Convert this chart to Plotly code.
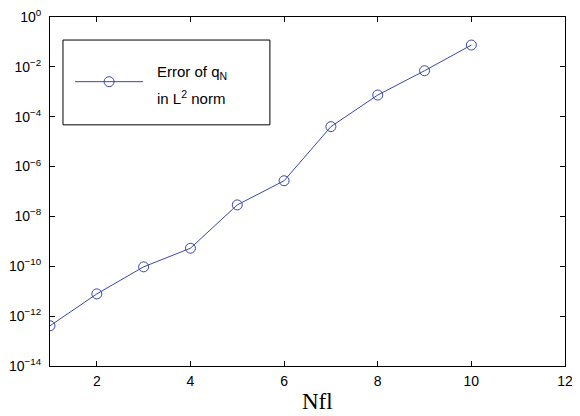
import plotly.graph_objects as go

# Data
nfl = [1, 2, 3, 4, 5, 6, 7, 8, 9, 10]
err_l2 = [4.1e-13, 7.8e-12, 9.5e-11, 5.3e-10, 2.9e-8, 2.7e-7, 4.0e-5, 7.4e-4, 7.0e-3, 7.5e-2]

x_ticks = [2, 4, 6, 8, 10, 12]
y_exponents = [0, -2, -4, -6, -8, -10, -12, -14]
y_tickvals = [10.0 ** e for e in y_exponents]
y_ticktext = ["10<sup>%s</sup>" % (str(e) if e >= 0 else "\u2212" + str(-e)) for e in y_exponents]

legend_line1 = "Error of q<sub>N</sub>"
legend_line2 = "in L<sup>2</sup> norm"
x_title = "Nfl"
color = "#3a48a8"

sans = "Liberation Sans, Arial, Helvetica, sans-serif"
serif = "Liberation Serif, Times New Roman, serif"

fig = go.Figure()
fig.add_trace(go.Scatter(
    x=nfl, y=err_l2, mode="lines+markers", name=" ",
    line=dict(color=color, width=1),
    marker=dict(symbol="circle-open", size=10, color=color, line=dict(width=1, color=color)),
    showlegend=True,
    hovertemplate="Error of q<sub>N</sub> in L<sup>2</sup> norm<br>Nfl=%{x}<br>%{y:.2e}<extra></extra>",
))

axis_font = dict(family=sans, size=14, color="black")

# The page body has an 8px margin; the figure is offset by 8px in the window.
fig.update_layout(
    width=572, height=408,
    margin=dict(l=42, r=15, t=9, b=50),
    paper_bgcolor="white", plot_bgcolor="white",
    showlegend=True,
    legend=dict(
        x=0.039, y=0.814, xanchor="left", yanchor="middle",
        bgcolor="rgba(0,0,0,0)", borderwidth=0,
        itemwidth=68, valign="middle",
        font=dict(family=sans, size=15, color="black"),
    ),
    xaxis=dict(
        range=[1, 12], tickvals=x_ticks, ticks="inside", ticklen=5, tickcolor="black",
        showline=True, linecolor="black", linewidth=1, mirror="ticks",
        showgrid=False, zeroline=False, tickfont=axis_font, automargin=False,
        ticklabeloverflow="allow", ticklabelstandoff=2,
    ),
    yaxis=dict(
        type="log", range=[-14, 0], tickvals=y_tickvals, ticktext=y_ticktext,
        ticks="inside", ticklen=5, tickcolor="black",
        showline=True, linecolor="black", linewidth=1, mirror="ticks",
        showgrid=False, zeroline=False, tickfont=axis_font, automargin=False,
        ticklabeloverflow="allow", ticklabelstandoff=5,
    ),
    shapes=[dict(type="rect", xref="paper", yref="paper",
                 x0=0.0252, x1=0.427, y0=0.691, y1=0.934,
                 line=dict(color="black", width=1), fillcolor="rgba(0,0,0,0)")],
    annotations=[
        dict(text=legend_line1, xref="paper", yref="paper", x=0.204, y=0.842,
             xanchor="left", yanchor="middle", showarrow=False,
             font=dict(family=sans, size=15, color="black")),
        dict(text=legend_line2, xref="paper", yref="paper", x=0.204, y=0.768,
             xanchor="left", yanchor="middle", showarrow=False,
             font=dict(family=sans, size=15, color="black")),
        dict(text=x_title, xref="paper", yref="paper", x=0.52, y=0, yshift=-21,
             xanchor="center", yanchor="top", showarrow=False,
             font=dict(family=serif, size=23, color="black")),
    ],
)

fig.write_html("out.html")
